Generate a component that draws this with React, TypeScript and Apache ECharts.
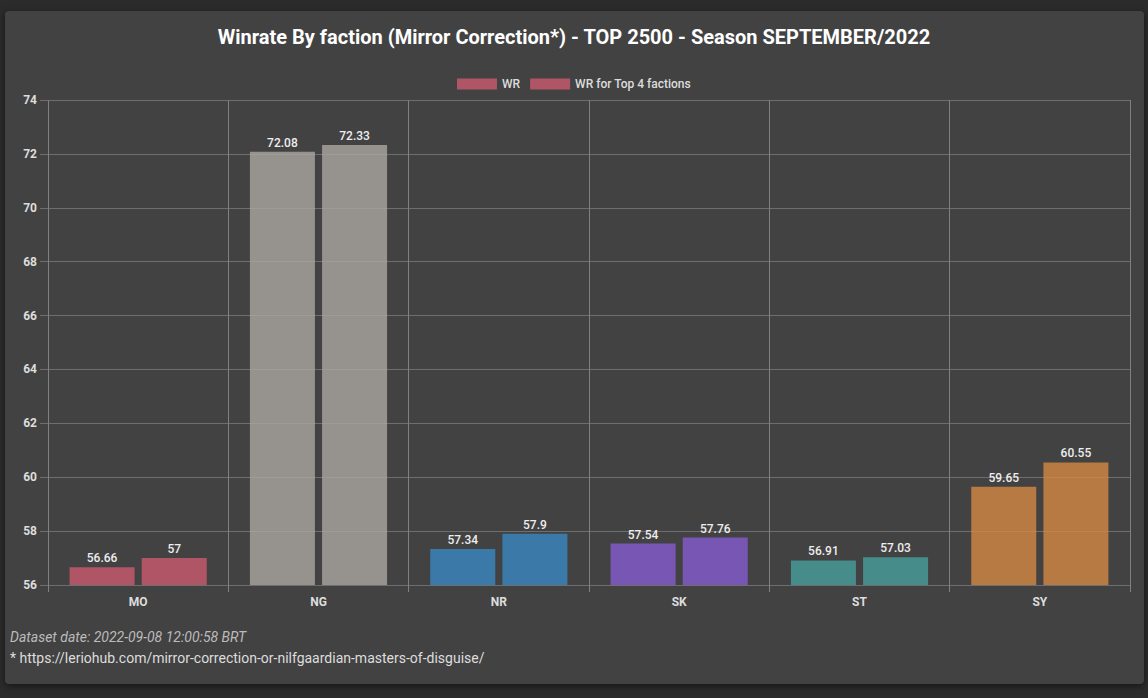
import React, { useEffect, useRef } from "react";
import * as echarts from "echarts";

const TITLE = "Winrate By faction (Mirror Correction*) - TOP 2500 - Season SEPTEMBER/2022";
const categories = ["MO", "NG", "NR", "SK", "ST", "SY"];
const seriesNames = ["WR", "WR for Top 4 factions"];
const wrValues = [56.66, 72.08, 57.34, 57.54, 56.91, 59.65];
const top4Values = [57, 72.33, 57.9, 57.76, 57.03, 60.55];
const factionColors = [
  "rgba(204,90,111,0.8)",
  "rgba(171,168,163,0.8)",
  "rgba(57,136,194,0.8)",
  "rgba(134,91,209,0.8)",
  "rgba(71,159,156,0.8)",
  "rgba(211,136,66,0.8)",
];
const footerDate = "Dataset date: 2022-09-08 12:00:58 BRT";
const footerLink = "* https://leriohub.com/mirror-correction-or-nilfgaardian-masters-of-disguise/";

export default function App() {
  const ref = useRef<HTMLDivElement>(null);
  useEffect(() => {
    if (!ref.current) return;
    const chart = echarts.init(ref.current, null, { renderer: "svg" });
    const makeSeries = (name: string, vals: number[]) => ({
      name,
      type: "bar",
      barWidth: 65,
      barGap: "11%",
      itemStyle: { color: factionColors[0] },
      data: vals.map((v, i) => ({ value: v, itemStyle: { color: factionColors[i] } })),
      label: {
        show: true,
        position: "top",
        distance: 3,
        color: "#eeeeee",
        fontSize: 12,
        fontWeight: 500,
        fontFamily: "Roboto",
      },
    });
    chart.setOption({
      animation: false,
      backgroundColor: "transparent",
      textStyle: { fontFamily: "Roboto" },
      title: {
        text: TITLE,
        left: "center",
        top: 22,
        textStyle: { color: "#ffffff", fontSize: 20, fontWeight: "bold", fontFamily: "Roboto" },
      },
      legend: {
        top: 73,
        left: "center",
        itemWidth: 40,
        itemHeight: 11,
        itemGap: 10,
        icon: "rect",
        textStyle: { color: "#dddddd", fontSize: 12, fontFamily: "Roboto", fontWeight: 500 },
        data: seriesNames,
      },
      grid: { left: 48, right: 18, top: 100, bottom: 113, containLabel: false },
      xAxis: {
        type: "category",
        data: categories,
        boundaryGap: true,
        axisLine: { show: false },
        axisTick: { show: true, length: 7, lineStyle: { color: "#808080" } },
        splitLine: { show: true, lineStyle: { color: "#808080", width: 1 } },
        axisLabel: { color: "#dddddd", fontSize: 12, fontWeight: "bold", margin: 11, fontFamily: "Roboto" },
      },
      yAxis: {
        type: "value",
        min: 56,
        max: 74,
        interval: 2,
        axisLine: { show: false },
        axisTick: { show: true, length: 8, lineStyle: { color: "#6e6e6e" } },
        splitLine: { show: true, lineStyle: { color: "#6e6e6e", width: 1 } },
        axisLabel: { color: "#dddddd", fontSize: 12, fontWeight: "bold", margin: 11, fontFamily: "Roboto" },
      },
      graphic: [
        {
          type: "text",
          left: 10,
          top: 630,
          style: {
            text: footerDate,
            fill: "#bbbbbb",
            font: "italic 14px Roboto",
          },
        },
        {
          type: "text",
          left: 10,
          top: 651,
          style: {
            text: footerLink,
            fill: "#dddddd",
            font: "14px Roboto",
          },
        },
      ],
      series: [makeSeries(seriesNames[0], wrValues), makeSeries(seriesNames[1], top4Values)],
    });
    return () => chart.dispose();
  }, []);
  return (
    <div style={{ position: "absolute", left: 0, top: 0, width: 1148, height: 698, background: "#2b2b2b" }}>
      <div
        style={{
          position: "absolute",
          left: 5,
          top: 11,
          width: 1139,
          height: 673,
          background: "#424242",
          borderRadius: 4,
          boxShadow: "0 2px 6px rgba(0,0,0,0.5)",
        }}
      />
      <div ref={ref} style={{ position: "absolute", left: 0, top: 0, width: 1148, height: 698 }} />
    </div>
  );
}
